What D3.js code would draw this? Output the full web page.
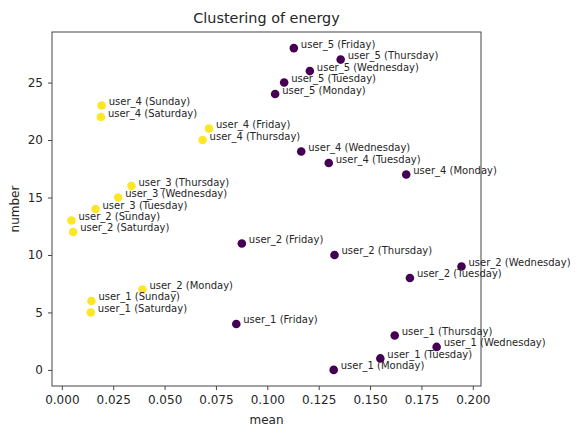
<!DOCTYPE html>
<html>
<head>
<meta charset="utf-8">
<script src="https://cdn.jsdelivr.net/npm/d3@7"></script>
<style>
  body { margin: 0; background: #fff; }
  svg text { font-family: "DejaVu Sans", sans-serif; fill: #262626; }
</style>
</head>
<body>
<div id="chart"></div>
<script>
const width = 576;
const height = 426;

// point labels, x = mean, y = number, cluster (0 = purple, 1 = yellow)
const labels = [
  "user_1 (Monday)", "user_1 (Tuesday)", "user_1 (Wednesday)", "user_1 (Thursday)", "user_1 (Friday)",
  "user_1 (Saturday)", "user_1 (Sunday)",
  "user_2 (Monday)", "user_2 (Tuesday)", "user_2 (Wednesday)", "user_2 (Thursday)", "user_2 (Friday)",
  "user_2 (Saturday)", "user_2 (Sunday)",
  "user_3 (Tuesday)", "user_3 (Wednesday)", "user_3 (Thursday)",
  "user_4 (Monday)", "user_4 (Tuesday)", "user_4 (Wednesday)", "user_4 (Thursday)", "user_4 (Friday)",
  "user_4 (Saturday)", "user_4 (Sunday)",
  "user_5 (Monday)", "user_5 (Tuesday)", "user_5 (Wednesday)", "user_5 (Thursday)", "user_5 (Friday)"
];
const means = [
  0.1323, 0.1550, 0.1824, 0.1620, 0.0849, 0.0141, 0.0144,
  0.0392, 0.1694, 0.1945, 0.1327, 0.0876, 0.0055, 0.0047,
  0.0164, 0.0274, 0.0339,
  0.1676, 0.1299, 0.1165, 0.0685, 0.0716, 0.0190, 0.0194,
  0.1038, 0.1082, 0.1207, 0.1357, 0.1129
];
const numbers = [
  0, 1, 2, 3, 4, 5, 6,
  7, 8, 9, 10, 11, 12, 13,
  14, 15, 16,
  17, 18, 19, 20, 21, 22, 23,
  24, 25, 26, 27, 28
];
const clusters = [
  0, 0, 0, 0, 0, 1, 1,
  1, 0, 0, 0, 0, 1, 1,
  1, 1, 1,
  0, 0, 0, 1, 1, 1, 1,
  0, 0, 0, 0, 0
];
const xTicks = [0, 0.025, 0.05, 0.075, 0.1, 0.125, 0.15, 0.175, 0.2];
const yTicks = [0, 5, 10, 15, 20, 25];

const points = labels.map((l, i) => ({ label: l, x: means[i], y: numbers[i], c: clusters[i] }));

const margin = { top: 32, right: 95, bottom: 40, left: 52 };

const svg = d3.select("#chart")
  .append("svg")
  .attr("width", width)
  .attr("height", height);

// matplotlib style 5% padding
const xMin = d3.min(means), xMax = d3.max(means);
const yMin = d3.min(numbers), yMax = d3.max(numbers);
const xPad = (xMax - xMin) * 0.05, yPad = (yMax - yMin) * 0.05;

const x = d3.scaleLinear()
  .domain([xMin - xPad, xMax + xPad])
  .range([margin.left, width - margin.right]);

const y = d3.scaleLinear()
  .domain([yMin - yPad, yMax + yPad])
  .range([height - margin.bottom, margin.top]);

const color = d3.scaleOrdinal().domain([0, 1]).range(["#440154", "#fde725"]);

// axes
const xAxis = svg.append("g")
  .attr("transform", `translate(0,${height - margin.bottom})`)
  .call(d3.axisBottom(x).tickValues(xTicks).tickFormat(d3.format(".3f")).tickSizeOuter(0).tickSize(4).tickPadding(5));

const yAxis = svg.append("g")
  .attr("transform", `translate(${margin.left},0)`)
  .call(d3.axisLeft(y).tickValues(yTicks).tickFormat(d3.format("d")).tickSizeOuter(0).tickSize(4).tickPadding(5));

[xAxis, yAxis].forEach(a => {
  a.select(".domain").remove();
  a.selectAll("line").attr("stroke", "#444");
  a.selectAll("text").style("font-size", "12px").attr("fill", "#262626");
});

// frame
svg.append("rect")
  .attr("x", margin.left)
  .attr("y", margin.top)
  .attr("width", width - margin.left - margin.right)
  .attr("height", height - margin.top - margin.bottom)
  .attr("fill", "none")
  .attr("stroke", "#444")
  .attr("stroke-width", 1);

// points
svg.append("g")
  .selectAll("circle")
  .data(points)
  .enter().append("circle")
  .attr("cx", d => x(d.x))
  .attr("cy", d => y(d.y))
  .attr("r", 4.3)
  .attr("fill", d => color(d.c));

// point labels
svg.append("g")
  .selectAll("text")
  .data(points)
  .enter().append("text")
  .attr("x", d => x(d.x) + 7)
  .attr("y", d => y(d.y) - 0.5)
  .style("font-size", "10px")
  .text(d => d.label);

// title and axis labels
svg.append("text")
  .attr("x", (margin.left + width - margin.right) / 2)
  .attr("y", 23)
  .attr("text-anchor", "middle")
  .style("font-size", "14.4px")
  .text("Clustering of energy");

svg.append("text")
  .attr("x", (margin.left + width - margin.right) / 2)
  .attr("y", 424)
  .attr("text-anchor", "middle")
  .style("font-size", "12px")
  .text("mean");

svg.append("text")
  .attr("transform", `translate(19,${(margin.top + height - margin.bottom) / 2}) rotate(-90)`)
  .attr("text-anchor", "middle")
  .style("font-size", "12px")
  .text("number");
</script>
</body>
</html>
